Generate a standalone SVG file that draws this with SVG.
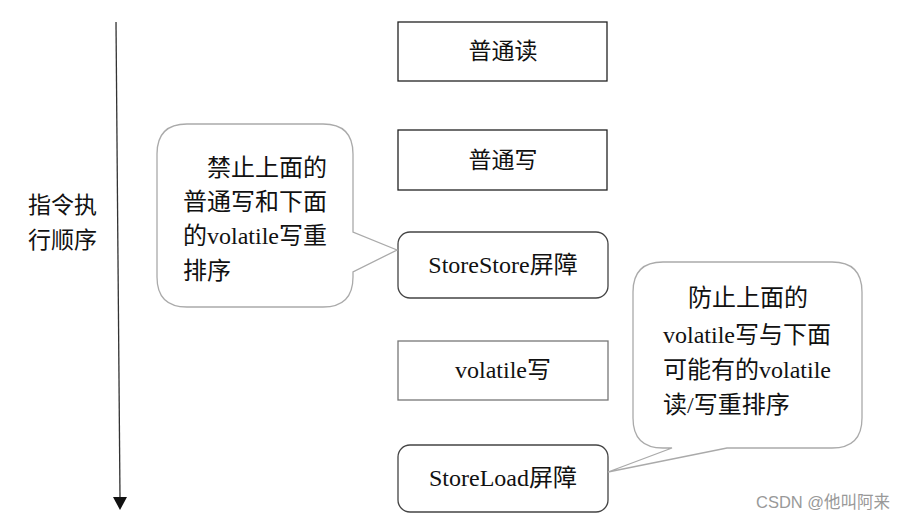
<svg xmlns="http://www.w3.org/2000/svg" width="908" height="520" viewBox="0 0 908 520">
<style>
text{font-family:"Liberation Serif","Noto Sans CJK SC",serif;font-size:24px;fill:#111}
.c{text-anchor:middle}
.lab{font-size:23px}
.box{fill:#fff;stroke:#222;stroke-width:1.3}
.rbox{fill:#fff;stroke:#444;stroke-width:1.3}
.gbox{fill:#fff;stroke:#777;stroke-width:1.3}
.bub{fill:#fff;stroke:#aaa;stroke-width:1.3}
.wm{font-family:"Liberation Sans","Noto Sans CJK SC",sans-serif;font-size:16.5px;fill:#999}
</style>
<rect width="908" height="520" fill="#fff"/>
<g id="connectors">
<line x1="116" y1="22" x2="120" y2="498" stroke="#333" stroke-width="1.3"/>
<path d="M113,497 L127,497 L120,510 Z" fill="#111"/>
</g>
<g id="order-label">
<text class="lab" x="28" y="213">指令执</text>
<text class="lab" x="28" y="248">行顺序</text>
</g>
<g id="n1"><rect class="box" x="398" y="22" width="209" height="59"/><text class="c lab" x="503" y="59">普通读</text></g>
<g id="n2"><rect class="box" x="398" y="130" width="209" height="60"/><text class="c lab" x="503" y="168">普通写</text></g>
<g id="n3"><rect class="rbox" x="398" y="232" width="210" height="66" rx="12"/><text class="c" x="503" y="273">StoreStore屏障</text></g>
<g id="n4"><rect class="gbox" x="398" y="341" width="210" height="59"/><text class="c" x="503" y="378">volatile写</text></g>
<g id="n5"><rect class="rbox" x="398" y="445" width="210" height="67" rx="12"/><text class="c" x="503" y="486">StoreLoad屏障</text></g>
<g id="callout-left">
<path class="bub" d="M187,124 L323,124 Q353,124 353,154 L353,232 L397,250 L353,272 L353,277 Q353,307 323,307 L187,307 Q157,307 157,277 L157,154 Q157,124 187,124 Z"/>
<text x="207" y="176">禁止上面的</text>
<text x="183" y="210">普通写和下面</text>
<text x="183" y="244">的volatile写重</text>
<text x="183" y="279">排序</text>
</g>
<g id="callout-right">
<path class="bub" d="M663,262 L832,262 Q862,262 862,292 L862,418 Q862,448 832,448 L727,448 L608,472 L672,448 L663,448 Q633,448 633,418 L633,292 Q633,262 663,262 Z"/>
<text class="c" x="748" y="306">防止上面的</text>
<text x="663" y="343">volatile写与下面</text>
<text x="663" y="378">可能有的volatile</text>
<text x="663" y="413">读/写重排序</text>
</g>
<text class="wm" x="756" y="508">CSDN @他叫阿来</text>
</svg>
